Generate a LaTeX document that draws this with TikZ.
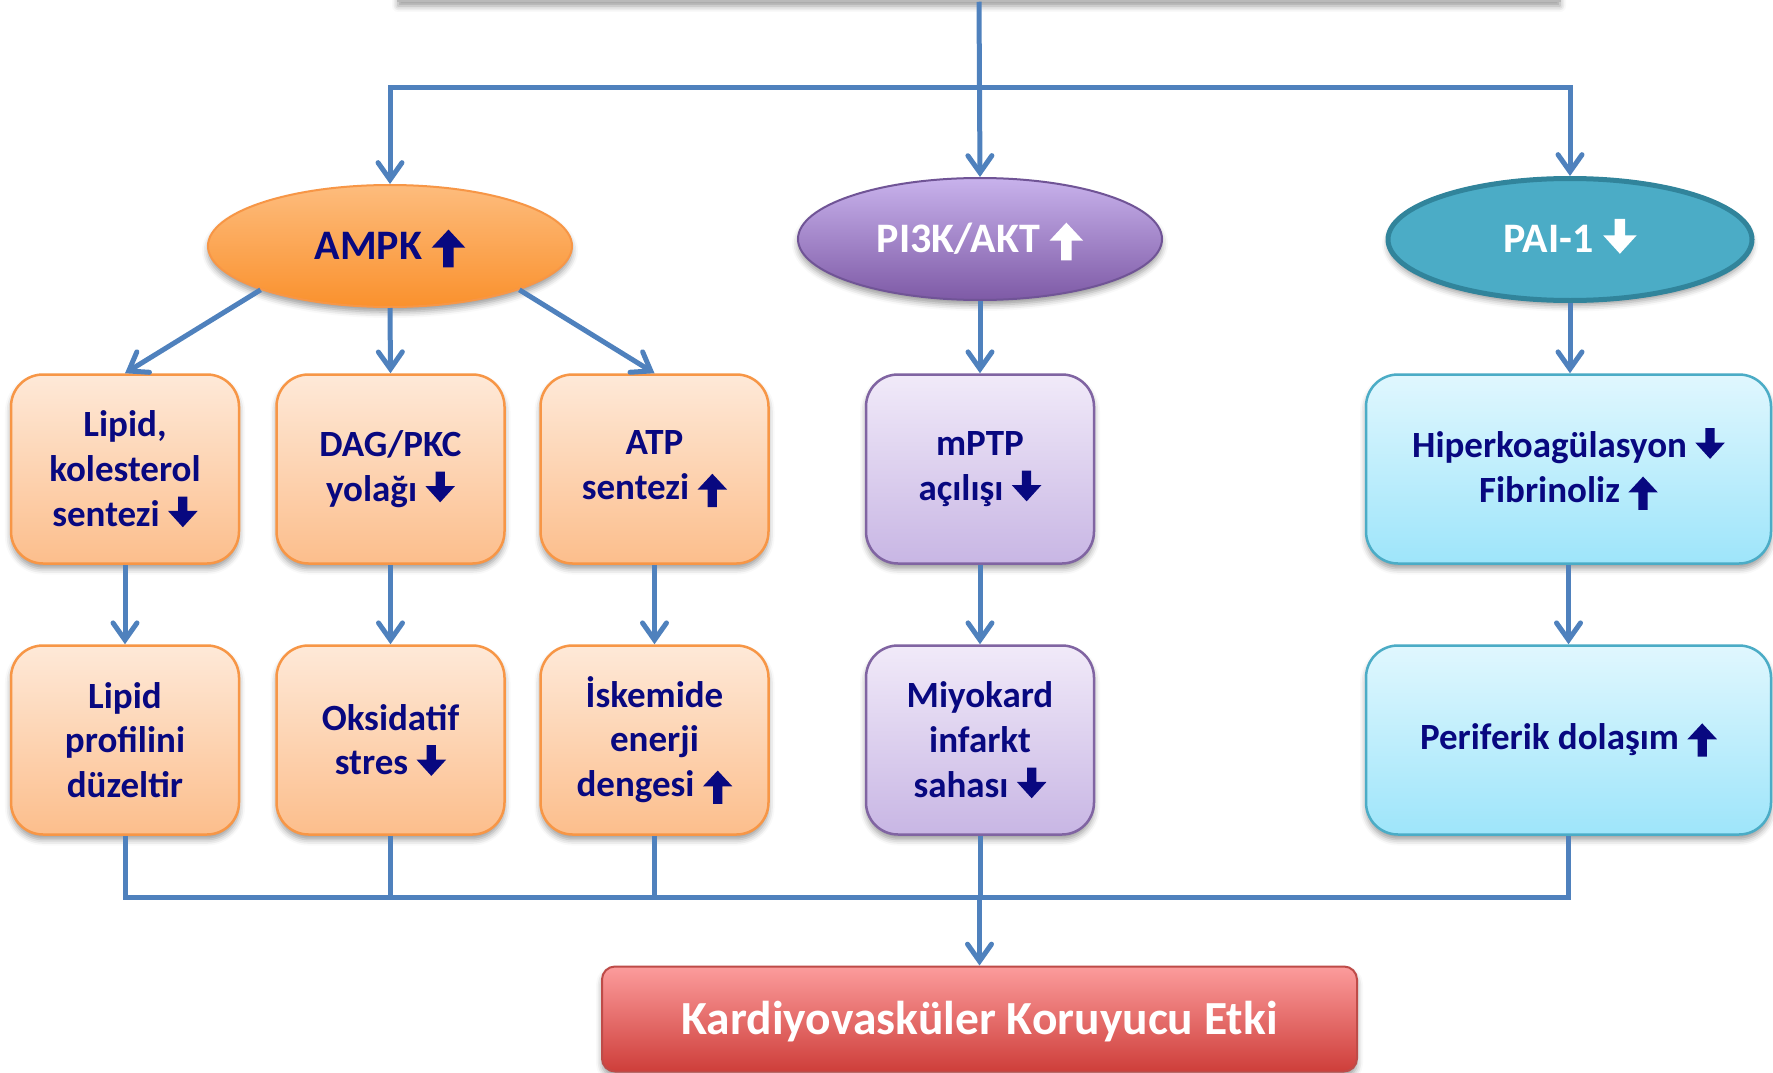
\documentclass[tikz,border=0pt]{standalone}
\usepackage{fontspec}
\setmainfont{Carlito}
\usetikzlibrary{shapes.geometric,arrows.meta,shadows.blur}

\definecolor{connblue}{RGB}{79,129,189}
\definecolor{navytxt}{RGB}{8,8,128}
\definecolor{orgline}{RGB}{247,150,70}
\definecolor{orgtop}{RGB}{254,233,216}
\definecolor{orgbot}{RGB}{252,190,140}
\definecolor{ampktop}{RGB}{253,188,125}
\definecolor{ampkbot}{RGB}{250,145,45}
\definecolor{purline}{RGB}{128,100,162}
\definecolor{purtop}{RGB}{241,234,249}
\definecolor{purbot}{RGB}{200,182,228}
\definecolor{pitop}{RGB}{200,178,236}
\definecolor{pibot}{RGB}{126,90,166}
\definecolor{piline}{RGB}{112,84,150}
\definecolor{cyline}{RGB}{75,172,198}
\definecolor{cytop}{RGB}{224,247,254}
\definecolor{cybot}{RGB}{158,229,250}
\definecolor{paifill}{RGB}{75,172,198}
\definecolor{pailine}{RGB}{49,132,155}
\definecolor{redtop}{RGB}{252,156,156}
\definecolor{redbot}{RGB}{206,62,58}
\definecolor{redline}{RGB}{190,75,72}

% block arrows used inside the labels (sized in em of the current font)
\newcommand\uparr[1][navytxt]{\tikz[baseline=0pt,x=1em,y=1em,sharp corners]
  \fill[#1,sharp corners]
  (-0.125,-0.2) -- (0.125,-0.2) -- (0.125,0.27) -- (0.4,0.27) -- (0,0.7)
  -- (-0.4,0.27) -- (-0.125,0.27) -- cycle;}
\newcommand\dnarr[1][navytxt]{\tikz[baseline=0pt,x=1em,y=1em,sharp corners]
  \fill[#1,sharp corners]
  (-0.125,0.8) -- (0.125,0.8) -- (0.125,0.41) -- (0.4,0.41) -- (0,-0.03)
  -- (-0.4,0.41) -- (-0.125,0.41) -- cycle;}

\tikzset{
  softshadow/.style={blur shadow={shadow xshift=0pt,shadow yshift=-5pt,
      shadow blur radius=6pt,shadow opacity=40}},
  conn/.style={draw=connblue,line width=5pt,
      -{Straight Barb[length=17pt,width=24pt,line cap=round]}},
  connline/.style={draw=connblue,line width=5pt},
  boxbase/.style={rectangle,rounded corners=32pt,minimum width=228pt,
      minimum height=189pt,inner sep=0pt,line width=2.5pt,align=center,
      font=\bfseries\fontsize{37}{44.7}\selectfont,text=navytxt,softshadow},
  obox/.style={boxbase,draw=orgline,top color=orgtop,bottom color=orgbot},
  pbox/.style={boxbase,draw=purline,top color=purtop,bottom color=purbot},
  cbox/.style={boxbase,draw=cyline,top color=cytop,bottom color=cybot},
  ell/.style={ellipse,minimum width=364pt,minimum height=122pt,inner sep=0pt,
      line width=2pt,font=\bfseries\fontsize{42}{50}\selectfont,
      text height=26pt,text depth=0pt,softshadow},
}

\begin{document}
\begin{tikzpicture}[x=1pt,y=-1pt]
\useasboundingbox (0,0) rectangle (1773,1073);

% source box above the sheet, only its lower edge shows
\node[draw=gray!55,fill=white,minimum width=1162pt,minimum height=200pt,
      line width=1.5pt,softshadow] (src) at (979,-99) {};

% second level
\node[ell,draw=orgline,top color=ampktop,bottom color=ampkbot,text=navytxt]
  (ampk) at (390,246) {AMPK \uparr};
\node[ell,draw=piline,top color=pitop,bottom color=pibot,text=white]
  (pi) at (980,239) {PI3K/AKT \uparr[white]};
\node[ell,draw=pailine,fill=paifill,line width=5pt,text=white]
  (pai) at (1570,239.5) {PAI-1 \dnarr[white]};

% third level
\node[obox] (lipid) at (125,469) {Lipid,\\kolesterol\\sentezi \dnarr};
\node[obox] (dag) at (390.5,469) {DAG/PKC\\yolağı \dnarr};
\node[obox] (atp) at (654.5,469) {ATP\\sentezi \uparr};
\node[pbox] (mptp) at (980,469) {mPTP\\açılışı \dnarr};
\node[cbox,minimum width=405pt] (hiper) at (1568.5,469)
  {Hiperkoagülasyon \dnarr\\Fibrinoliz \uparr};

% fourth level
\node[obox] (lprof) at (125,740) {Lipid\\profilini\\düzeltir};
\node[obox] (oks) at (390.5,740) {Oksidatif\\stres \dnarr};
\node[obox] (isk) at (654.5,740) {İskemide\\enerji\\dengesi \uparr};
\node[pbox] (miyo) at (980,740) {Miyokard\\infarkt\\sahası \dnarr};
\node[cbox,minimum width=405pt] (perif) at (1568.5,740) {Periferik dolaşım \uparr};

% result
\node[rectangle,rounded corners=13pt,minimum width=755pt,minimum height=105pt,
      inner sep=0pt,line width=2pt,draw=redline,top color=redtop,bottom color=redbot,
      text=white,font=\bfseries\fontsize{47.5}{54}\selectfont,
      text height=30.4pt,text depth=0pt,softshadow]
  (kve) at (979.5,1019) {Kardiyovasküler Koruyucu Etki};

% upper distribution
\coordinate (hb) at (979,88);
\draw[conn] (src.south) -- (pi.north);
\draw[conn] (hb) -| (ampk.north);
\draw[conn] (hb) -| (pai.north);

% AMPK branches
\draw[conn] (ampk.south west) -- (lipid.north);
\draw[conn] (ampk.south) -- (dag.north);
\draw[conn] (ampk.south east) -- (atp.north);
\draw[conn] (pi.south) -- (mptp.north);
\draw[conn] (pai.south) -- (pai.south |- hiper.north);

% third to fourth level
\draw[conn] (lipid.south) -- (lprof.north);
\draw[conn] (dag.south) -- (oks.north);
\draw[conn] (atp.south) -- (isk.north);
\draw[conn] (mptp.south) -- (miyo.north);
\draw[conn] (hiper.south) -- (perif.north);

% collecting bus
\coordinate (bb) at (979,897);
\draw[connline] (lprof.south) |- (perif.south |- bb) -- (perif.south);
\draw[connline] (oks.south) -- (oks.south |- bb);
\draw[connline] (isk.south) -- (isk.south |- bb);
\draw[connline] (miyo.south) -- (miyo.south |- bb);
\draw[conn] (kve.north |- bb) -- (kve.north);
\end{tikzpicture}
\end{document}
